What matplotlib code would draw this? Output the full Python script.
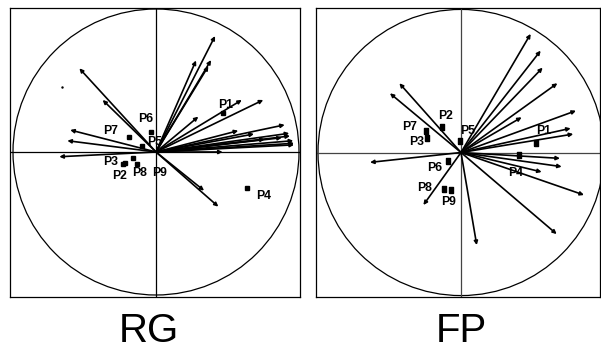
import numpy as np
import matplotlib.pyplot as plt
from matplotlib.patches import Circle

plt.rcParams['font.family'] = ['Liberation Sans', 'DejaVu Sans']

labels = ['P1', 'P2', 'P3', 'P4', 'P5', 'P6', 'P7', 'P8', 'P9']

# RG panel: variable arrows (loadings)
rg_vx = [0.413, 0.28, 0.385, 0.366, 0.60, 0.75, 0.296, 0.90, 0.575, 0.685,
         0.932, 0.937, 0.88, 0.76, 0.96, 0.965, 0.965, 0.466, 0.436, 0.336,
         -0.536, -0.373, -0.60, -0.62, -0.676]
rg_vy = [0.811, 0.64, 0.643, 0.60, 0.364, 0.364, 0.247, 0.19, 0.149, 0.126,
         0.131, 0.112, 0.10, 0.089, 0.079, 0.061, 0.05, 0.0, -0.382, -0.27,
         0.585, 0.364, 0.154, 0.079, -0.033]
# RG panel: products
rg_px = [0.466, -0.215, -0.229, 0.634, -0.10, -0.037, -0.187, -0.135, -0.163]
rg_py = [0.273, -0.079, -0.086, -0.254, 0.042, 0.142, 0.107, -0.086, -0.04]
rg_lx = [0.49, -0.257, -0.317, 0.75, -0.007, -0.07, -0.317, -0.117, 0.028]
rg_ly = [0.33, -0.168, -0.068, -0.31, 0.072, 0.23, 0.149, -0.149, -0.149]

# FP panel
fp_vx = [0.487, 0.557, 0.571, 0.674, 0.424, 0.804, 0.767, 0.785, 0.692,
         0.704, 0.564, 0.860, 0.669, 0.110, -0.431, -0.497, -0.636, -0.263]
fp_vy = [0.829, 0.712, 0.593, 0.484, 0.246, 0.292, 0.169, 0.129, -0.041,
         -0.099, -0.136, -0.297, -0.570, -0.647, 0.484, 0.414, -0.069, -0.367]
fp_px = [0.524, -0.135, -0.240, 0.408, -0.010, -0.089, -0.247, -0.119, -0.068]
fp_py = [0.069, 0.178, 0.099, -0.017, 0.082, -0.058, 0.150, -0.252, -0.26]
fp_lx = [0.576, -0.110, -0.310, 0.385, 0.044, -0.182, -0.361, -0.252, -0.089]
fp_ly = [0.150, 0.257, 0.076, -0.146, 0.15, -0.111, 0.181, -0.250, -0.344]


def draw_panel(ax, vx, vy, px, py, lx, ly, marker, ms, axcol):
    ax.add_patch(Circle((0, 0), 1.0, fill=False, lw=0.9, color='black'))
    ax.axhline(0, color=axcol, lw=0.9)
    ax.axvline(0, color=axcol, lw=0.9)
    for x, y in zip(vx, vy):
        ax.annotate('', xy=(x, y), xytext=(0, 0),
                    arrowprops=dict(arrowstyle='-|>', lw=1.2, color='black',
                                    mutation_scale=5.5, shrinkA=0, shrinkB=0),
                    zorder=3)
    ax.plot(px, py, ls='none', marker=marker, ms=ms, color='black', zorder=2)
    for t, x, y in zip(labels, lx, ly):
        ax.text(x, y, t, ha='center', va='center', fontsize=8.8,
                fontweight='bold', zorder=1)
    ax.set_xticks([])
    ax.set_yticks([])
    for s in ax.spines.values():
        s.set_linewidth(0.9)


fig = plt.figure(figsize=(6.01, 3.51), dpi=100)
W, H = 601.0, 351.0

ax1 = fig.add_axes([10 / W, (H - 297) / H, 290 / W, 289 / H])
ax1.set_xlim(-1.021, 1.007)
ax1.set_ylim(-1.014, 1.007)
draw_panel(ax1, rg_vx, rg_vy, rg_px, rg_py, rg_lx, rg_ly, 's', 3.3, 'black')
ax1.plot([-0.655], [0.452], ls='none', marker='.', ms=1.5, color='black')

rect = [(-0.6, -1), (0.6, -1), (0.6, 1), (-0.6, 1), (-0.6, -1)]
ax2 = fig.add_axes([316 / W, (H - 297) / H, 284 / W, 289 / H])
ax2.set_xlim(-1.014, 0.972)
ax2.set_ylim(-1.010, 1.010)
draw_panel(ax2, fp_vx, fp_vy, fp_px, fp_py, fp_lx, fp_ly, rect, 4, '#444444')

fig.text(148.5 / W, 0.5 / H, 'RG', ha='center', va='bottom', fontsize=29)
fig.text(461 / W, 0.5 / H, 'FP', ha='center', va='bottom', fontsize=29)

fig.savefig('out.png', dpi=100)
